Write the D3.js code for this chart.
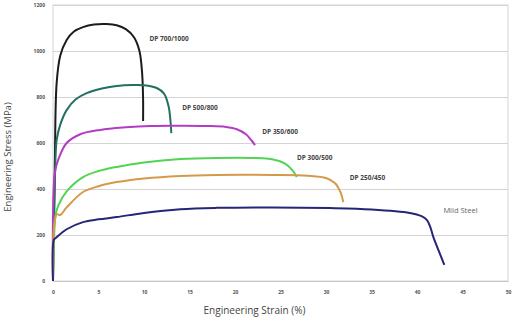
<!DOCTYPE html>
<html lang="en">
<head>
<meta charset="utf-8">
<title>Engineering stress-strain curves</title>
<script src="https://d3js.org/d3.v7.min.js"></script>
<style>
  body { margin: 0; background: #fff; }
  text { font-family: "Open Sans", sans-serif; }
</style>
</head>
<body>
<div id="my_dataviz"></div>
<script>

// data: [strain %, stress MPa]
var xTicks = [0, 5, 10, 15, 20, 25, 30, 35, 40, 45, 50];
var yTicks = [0, 200, 400, 600, 800, 1000, 1200];

var dp700 = [[0,0],[0.2,500],[0.4,860],[0.8,980],[1.5,1048],[2.3,1085],[3.3,1104],[4.5,1115],[5.9,1117],[7,1112],[8,1095],[8.9,1060],[9.5,1000],[9.8,900],[9.9,790],[9.9,696]];
var dp500 = [[0,0],[0.3,560],[0.4,613],[0.8,680],[1.5,743],[2.5,790],[3.7,817],[5.5,838],[7,848],[8.8,852],[10,851],[11.4,839],[12.2,815],[12.7,760],[12.9,700],[13,643]];
var dp350 = [[0,0],[0.2,470],[0.6,530],[1.5,600],[3,638],[5.2,657],[8,668],[10.7,674],[14,675],[17,674],[19,670],[20.2,660],[21.2,638],[21.8,612],[22.2,591]];
var dp300 = [[0,0],[0.3,290],[0.6,330],[1.5,390],[3.3,452],[5,478],[7,496],[10,515],[14,530],[18,535],[22,535],[24.2,528],[25.5,510],[26.3,482],[26.8,452]];
var dp250 = [[0,0],[0.4,290],[0.8,287],[1.5,320],[3.3,387],[5,412],[7,430],[10,446],[14,457],[18,461],[24,461],[28,458],[30,448],[31,425],[31.6,385],[31.9,343]];
var mild = [[0,0],[0.1,180],[0.3,187],[1.5,225],[3.3,256],[5,268],[7,278],[10,296],[14,312],[18,318],[24,320],[30.4,317],[35,311],[39.2,296],[40.5,282],[41.1,265],[41.5,230],[41.8,191],[42.4,130],[43,70]];

var names = ["DP 700/1000", "DP 500/800", "DP 350/600", "DP 300/500", "DP 250/450", "Mild Steel"];
var series = [dp700, dp500, dp350, dp300, dp250, mild];
var colors = ["#1c1c1c", "#22705f", "#b43cc4", "#52d452", "#d59a48", "#25257a"];

// label anchors in data units (strain, stress)
var labelPos = [[10.6, 1055], [14.2, 755], [23, 650], [26.8, 535], [32.6, 448], [42.9, 305]];

var width = 516, height = 320;
var margin = {top: 5, left: 53, right: 8, bottom: 39};
var w = width - margin.left - margin.right,
    h = height - margin.top - margin.bottom;

var svg = d3.select("#my_dataviz")
  .append("svg")
  .attr("width", width)
  .attr("height", height);

var g = svg.append("g")
  .attr("transform", "translate(" + margin.left + "," + margin.top + ")");

var x = d3.scaleLinear().domain([0, 50]).range([0, w]);
var y = d3.scaleLinear().domain([0, 1200]).range([h, 0]);

// plot frame
g.append("rect")
  .attr("width", w)
  .attr("height", h)
  .attr("fill", "none")
  .attr("stroke", "#dcdcdc")
  .attr("stroke-width", 1.2);

// gridlines
g.append("g")
  .call(d3.axisLeft(y).tickValues(yTicks).tickSize(-w).tickFormat(""))
  .call(function(a) { a.select(".domain").remove(); })
  .selectAll("line")
    .attr("stroke", "#d4d4d4")
    .attr("stroke-width", 1.2);

// y tick labels
g.append("g")
  .call(d3.axisLeft(y).tickValues(yTicks).tickSize(0).tickPadding(8).tickFormat(d3.format("d")))
  .call(function(a) { a.select(".domain").remove(); })
  .selectAll("text")
    .attr("fill", "#555")
    .style("font-size", "5px")
    .style("font-weight", "bold");

// x axis
g.append("g")
  .attr("transform", "translate(0," + h + ")")
  .call(d3.axisBottom(x).tickValues(xTicks).tickSize(0).tickPadding(9))
  .call(function(a) { a.select(".domain").attr("stroke", "#c8c8c8").attr("stroke-width", 1.2); })
  .selectAll("text")
    .attr("fill", "#555")
    .style("font-size", "5px")
    .style("font-weight", "bold");

// curves
var line = d3.line()
  .x(function(d) { return x(d[0]); })
  .y(function(d) { return y(d[1]); })
  .curve(d3.curveCatmullRom.alpha(0.5));

g.selectAll(".curve")
  .data(series)
  .enter()
  .append("path")
    .attr("class", "curve")
    .attr("d", line)
    .attr("fill", "none")
    .attr("stroke", function(d, i) { return colors[i]; })
    .attr("stroke-width", 2)
    .attr("stroke-linejoin", "round");

// curve labels
g.selectAll(".lbl")
  .data(names)
  .enter()
  .append("text")
    .attr("class", "lbl")
    .attr("x", function(d, i) { return x(labelPos[i][0]); })
    .attr("y", function(d, i) { return y(labelPos[i][1]); })
    .attr("dy", "0.35em")
    .attr("fill", function(d, i) { return i == 5 ? "#666" : "#444"; })
    .style("font-size", function(d, i) { return i == 5 ? "7.5px" : "6.5px"; })
    .style("font-weight", function(d, i) { return i == 5 ? "normal" : "bold"; })
    .text(function(d) { return d; });

// axis titles
svg.append("text")
  .attr("x", margin.left + w / 2 - 26)
  .attr("y", 314)
  .attr("text-anchor", "middle")
  .attr("fill", "#444")
  .style("font-size", "10px")
  .text("Engineering Strain (%)");

svg.append("text")
  .attr("transform", "translate(11,157)rotate(-90)")
  .attr("text-anchor", "middle")
  .attr("fill", "#444")
  .style("font-size", "9.5px")
  .text("Engineering Stress (MPa)");

</script>
</body>
</html>
